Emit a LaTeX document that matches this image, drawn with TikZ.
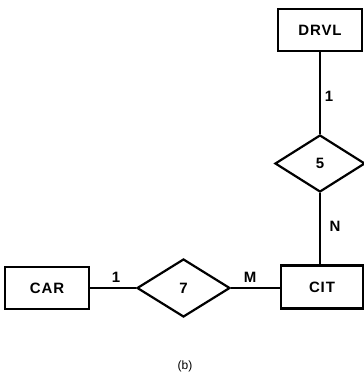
\documentclass[tikz,border=0pt]{standalone}
\usepackage{fontspec}
\setmainfont{Liberation Sans}
\newfontfamily\labfont[LetterSpace=6]{Liberation Sans}
\usetikzlibrary{shapes.geometric}
\begin{document}
\begin{tikzpicture}[x=1pt,y=1pt,
  txt/.style={font=\labfont\fontsize{15}{15}\selectfont\bfseries},
  entity/.style={txt, draw, line width=2.4pt, rectangle, minimum width=84pt, minimum height=42pt, inner sep=0pt},
  rel/.style={txt, draw, line width=2.2pt, diamond, inner sep=0pt},
  conn/.style={line width=1.3pt},
  lbl/.style={txt, inner sep=0pt}]
\useasboundingbox (0,0) rectangle (364,378);
\node[entity] (drvl) at (320,348) {DRVL};
\node[rel, minimum width=90pt, minimum height=57pt] (d5) at (320,214.5) {5};
\node[entity, minimum width=82pt, minimum height=43pt] (cit) at (322,91) {CIT};
\node[entity] (car) at (47,90) {CAR};
\node[rel, minimum width=93pt, minimum height=58pt] (d7) at (183.5,90) {7};
\draw[conn] (drvl.south -| d5.north) -- (d5.north);
\draw[conn] (d5.south) -- (d5.south |- cit.north);
\draw[conn] (car.east) -- (d7.west);
\draw[conn] (d7.east) -- (d7.east -| cit.west);
\node[lbl] (l1) at (329,282) {1};
\node[lbl] (lN) at (335,152) {N};
\node[lbl] (l2) at (116,101) {1};
\node[lbl] (lM) at (250,101) {M};
\node[font=\fontsize{12}{12}\selectfont, inner sep=0pt] (cap) at (185,12) {(b)};
\end{tikzpicture}
\end{document}
